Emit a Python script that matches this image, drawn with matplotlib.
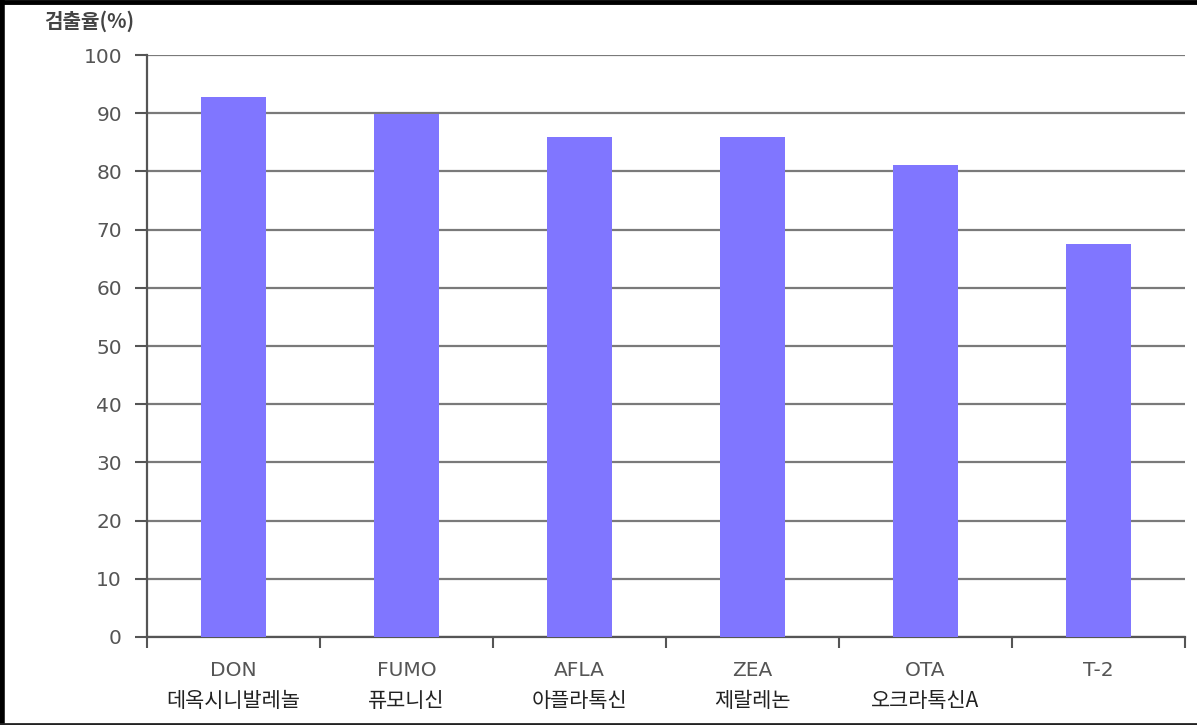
import matplotlib
matplotlib.use('Agg')
import matplotlib.pyplot as plt
import matplotlib.transforms as mtransforms
from matplotlib.lines import Line2D
import numpy as np

plt.rcParams['font.family'] = ['DejaVu Sans', 'Noto Sans CJK KR']
kr_font = ['Noto Sans CJK KR', 'DejaVu Sans']

# data
codes = ['DON', 'FUMO', 'AFLA', 'ZEA', 'OTA', 'T-2']
names = ['데옥시니발레놀', '퓨모니신', '아플라톡신', '제랄레논', '오크라톡신A', '']
rates = [92.8, 89.8, 86.0, 86.0, 81.1, 67.5]
yticks = [0, 10, 20, 30, 40, 50, 60, 70, 80, 90, 100]

fig = plt.figure(figsize=(11.97, 7.25), dpi=100)
ax = fig.add_axes([0.1228, 0.1214, 0.990 - 0.1228, 0.9241 - 0.1214])

x = np.arange(len(codes))
ax.bar(x, rates, width=0.38, color='#8076FF', zorder=3)

ax.set_xlim(-0.5, len(codes) - 0.5)
ax.set_ylim(0, 100)
ax.set_yticks(yticks)
ax.set_yticklabels([str(v) for v in yticks], fontsize=14.5, color='#555555')
ax.yaxis.grid(True, color='#7a7a7a', linewidth=1.6, zorder=0)

# category boundaries as x ticks
ax.set_xticks(np.arange(len(codes) + 1) - 0.5)
ax.set_xticklabels([])
ax.tick_params(axis='x', direction='out', length=8, width=1.5, color='#555555')
ax.tick_params(axis='y', direction='out', length=9, width=1.5, color='#555555', pad=9)

for side in ['top', 'right']:
    ax.spines[side].set_visible(False)
for side in ['left', 'bottom']:
    ax.spines[side].set_color('#555555')
    ax.spines[side].set_linewidth(1.6)

trans = mtransforms.blended_transform_factory(ax.transData, ax.transAxes)
for i in range(len(codes)):
    ax.text(i, -0.058, codes[i], transform=trans, ha='center', va='center',
            fontsize=14.5, color='#555555')
    if names[i]:
        ax.text(i, -0.110, names[i], transform=trans, ha='center', va='center',
                fontsize=15, color='#222222', family=kr_font, fontweight='medium')

fig.text(0.037, 0.971, '검출율(%)', ha='left', va='center', fontsize=14.5,
         fontweight='bold', color='#444444', family=kr_font)

# black frame around the picture (left, top, bottom)
fig.add_artist(Line2D([0.002, 0.002], [0, 1], transform=fig.transFigure, color='black', linewidth=4))
fig.add_artist(Line2D([0, 1], [0.997, 0.997], transform=fig.transFigure, color='black', linewidth=3.5))
fig.add_artist(Line2D([0, 1], [0.002, 0.002], transform=fig.transFigure, color='#222222', linewidth=2))

fig.savefig('out.png', dpi=100)
